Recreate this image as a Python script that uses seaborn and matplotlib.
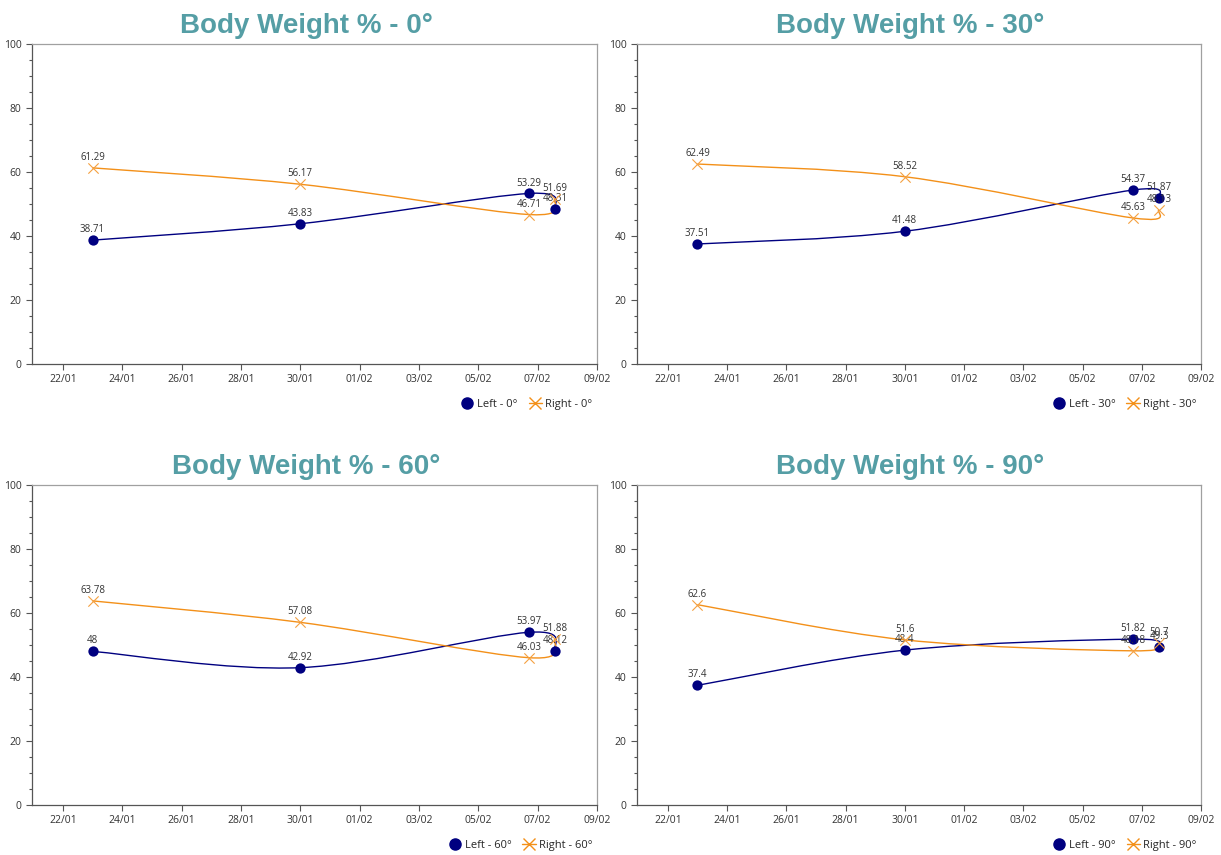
import numpy as np
import pandas as pd
import seaborn as sns
import matplotlib.pyplot as plt
import matplotlib.dates as mdates
from matplotlib.path import Path
from matplotlib.patches import PathPatch
from matplotlib.lines import Line2D
from matplotlib.ticker import MultipleLocator

sns.set_style('white')
plt.rcParams['font.family'] = ['Open Sans', 'DejaVu Sans']

# measurement dates
dates = ['2024-01-23 00:00', '2024-01-30 00:00', '2024-02-06 17:00', '2024-02-07 14:00']
angles = ['0°', '30°', '60°', '90°']

left_0 = [38.71, 43.83, 53.29, 48.31]
right_0 = [61.29, 56.17, 46.71, 51.69]
left_30 = [37.51, 41.48, 54.37, 51.87]
right_30 = [62.49, 58.52, 45.63, 48.13]
left_60 = [48, 42.92, 53.97, 48.12]
right_60 = [63.78, 57.08, 46.03, 51.88]
left_90 = [37.4, 48.4, 51.82, 49.3]
right_90 = [62.6, 51.6, 48.18, 50.7]

tick_dates = ['2024-01-22', '2024-01-24', '2024-01-26', '2024-01-28', '2024-01-30',
              '2024-02-01', '2024-02-03', '2024-02-05', '2024-02-07', '2024-02-09']

lefts = [left_0, left_30, left_60, left_90]
rights = [right_0, right_30, right_60, right_90]

navy = '#000080'
orange = '#F39019'
orange_marker = '#F5A040'
teal = '#559EA5'


def spline_path(x, y):
    # catmull-rom style smooth curve through the points, like the original chart
    pts = np.column_stack([x, y])
    padded = np.vstack([pts[0], pts, pts[-1]])
    verts = [pts[0]]
    codes = [Path.MOVETO]
    for i in range(len(pts) - 1):
        p0, p1, p2, p3 = padded[i], padded[i + 1], padded[i + 2], padded[i + 3]
        verts += [p1 + (p2 - p0) / 6, p2 - (p3 - p1) / 6, p2]
        codes += [Path.CURVE4] * 3
    return Path(verts, codes)


fig = plt.figure(figsize=(12.21, 8.55), dpi=100)
positions = [
    [32 / 1221, 491 / 855, 565 / 1221, 320 / 855],
    [637 / 1221, 491 / 855, 564 / 1221, 320 / 855],
    [32 / 1221, 50 / 855, 565 / 1221, 320 / 855],
    [637 / 1221, 50 / 855, 564 / 1221, 320 / 855],
]

x = pd.to_datetime(dates)
xnum = mdates.date2num(x)
ticks = pd.to_datetime(tick_dates)

for pos, angle, left, right in zip(positions, angles, lefts, rights):
    ax = fig.add_axes(pos)
    df = pd.DataFrame({'date': x, 'left': left, 'right': right})

    for col, color, mcolor, marker, lw in [('left', navy, navy, 'o', 0),
                                           ('right', orange, orange_marker, 'x', 0.8)]:
        ax.add_patch(PathPatch(spline_path(xnum, df[col].values), facecolor='none',
                               edgecolor=color, lw=1.0))
        sns.scatterplot(data=df, x='date', y=col, color=mcolor, marker=marker, s=55,
                        linewidth=lw, ax=ax, legend=False, zorder=3)
        for xi, v in zip(df['date'], df[col]):
            ax.annotate(f'{v:g}', (xi, v), xytext=(0, 7.5), textcoords='offset points',
                        ha='center', va='center', fontsize=7, color='#333333')

    ax.set_xlim(mdates.date2num(pd.Timestamp('2024-01-20 23:00')), mdates.date2num(ticks[-1]))
    ax.set_ylim(0, 100)
    ax.set_xticks(ticks)
    ax.xaxis.set_major_formatter(mdates.DateFormatter('%d/%m'))
    ax.yaxis.set_major_locator(MultipleLocator(20))
    ax.yaxis.set_minor_locator(MultipleLocator(5))
    ax.set_xlabel('')
    ax.set_ylabel('')
    ax.tick_params(axis='both', which='major', direction='out', length=4, width=0.8,
                   labelsize=7.5, labelcolor='#333333', color='#555555', left=True, bottom=True)
    ax.tick_params(axis='y', which='minor', direction='out', length=2, width=0.8,
                   color='#555555', left=True)
    for side in ['top', 'right']:
        ax.spines[side].set_color('#A0A0A0')
    for side in ['left', 'bottom']:
        ax.spines[side].set_color('#555555')
    for sp in ax.spines.values():
        sp.set_linewidth(0.9)

    ax.set_title(f'Body Weight % - {angle}', color=teal, fontsize=20, fontweight='bold',
                 family='Liberation Sans', pad=8, x=0.485)

    handles = [
        Line2D([], [], color=navy, marker='o', markersize=8, linestyle='none'),
        Line2D([], [], color=orange, marker='x', markersize=8, lw=1),
    ]
    ax.legend(handles, [f'Left - {angle}', f'Right - {angle}'], loc='upper right',
              bbox_to_anchor=(1.0, -0.095), ncol=2, frameon=False, fontsize=8,
              handlelength=1.2, columnspacing=1.0, handletextpad=0.3, borderaxespad=0)

fig.savefig('out.png', dpi=100)
